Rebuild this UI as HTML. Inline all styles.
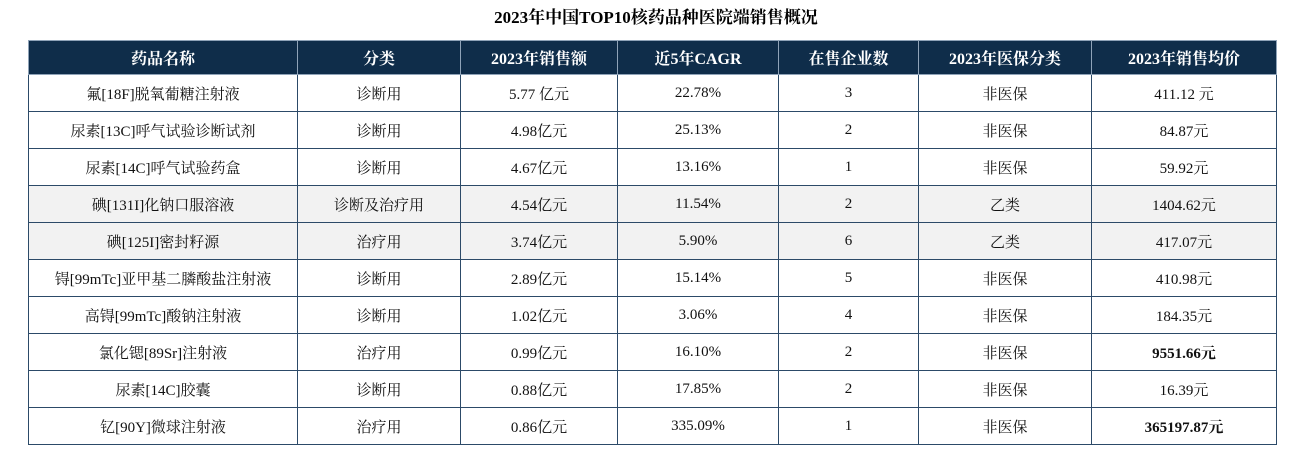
<!DOCTYPE html>
<html><head><meta charset="utf-8"><style>
body{margin:0;width:1312px;height:455px;background:#fff;font-family:"Liberation Serif","Noto Serif CJK SC",serif;overflow:hidden;position:relative}
.t{position:absolute;top:3px;left:0;width:1312px;text-align:center;font-weight:bold;font-size:17px;color:#000}
table{position:absolute;left:28px;top:40px;border-collapse:collapse;table-layout:fixed;font-size:15px;color:#111}
td,th{border:1px solid #2c4a68;text-align:center;padding:0;height:36px}
th{background:#0f2d4a;color:#fff;font-weight:bold;font-size:16px;height:33px;border-color:#8fa3b8}
tr.g td{background:#f2f2f2}
b{font-weight:bold}
</style></head><body>
<div class="t">2023年中国TOP10核药品种医院端销售概况</div>
<table>
<colgroup><col style="width:269px"><col style="width:163px"><col style="width:157px"><col style="width:161px"><col style="width:140px"><col style="width:173px"><col style="width:185px"></colgroup>
<tr><th>药品名称</th><th>分类</th><th>2023年销售额</th><th>近5年CAGR</th><th>在售企业数</th><th>2023年医保分类</th><th>2023年销售均价</th></tr>
<tr><td>氟[18F]脱氧葡糖注射液</td><td>诊断用</td><td>5.77 亿元</td><td>22.78%</td><td>3</td><td>非医保</td><td>411.12 元</td></tr>
<tr><td>尿素[13C]呼气试验诊断试剂</td><td>诊断用</td><td>4.98亿元</td><td>25.13%</td><td>2</td><td>非医保</td><td>84.87元</td></tr>
<tr><td>尿素[14C]呼气试验药盒</td><td>诊断用</td><td>4.67亿元</td><td>13.16%</td><td>1</td><td>非医保</td><td>59.92元</td></tr>
<tr class="g"><td>碘[131I]化钠口服溶液</td><td>诊断及治疗用</td><td>4.54亿元</td><td>11.54%</td><td>2</td><td>乙类</td><td>1404.62元</td></tr>
<tr class="g"><td>碘[125I]密封籽源</td><td>治疗用</td><td>3.74亿元</td><td>5.90%</td><td>6</td><td>乙类</td><td>417.07元</td></tr>
<tr><td>锝[99mTc]亚甲基二膦酸盐注射液</td><td>诊断用</td><td>2.89亿元</td><td>15.14%</td><td>5</td><td>非医保</td><td>410.98元</td></tr>
<tr><td>高锝[99mTc]酸钠注射液</td><td>诊断用</td><td>1.02亿元</td><td>3.06%</td><td>4</td><td>非医保</td><td>184.35元</td></tr>
<tr><td>氯化锶[89Sr]注射液</td><td>治疗用</td><td>0.99亿元</td><td>16.10%</td><td>2</td><td>非医保</td><td><b>9551.66元</b></td></tr>
<tr><td>尿素[14C]胶囊</td><td>诊断用</td><td>0.88亿元</td><td>17.85%</td><td>2</td><td>非医保</td><td>16.39元</td></tr>
<tr><td>钇[90Y]微球注射液</td><td>治疗用</td><td>0.86亿元</td><td>335.09%</td><td>1</td><td>非医保</td><td><b>365197.87元</b></td></tr>
</table>
</body></html>
